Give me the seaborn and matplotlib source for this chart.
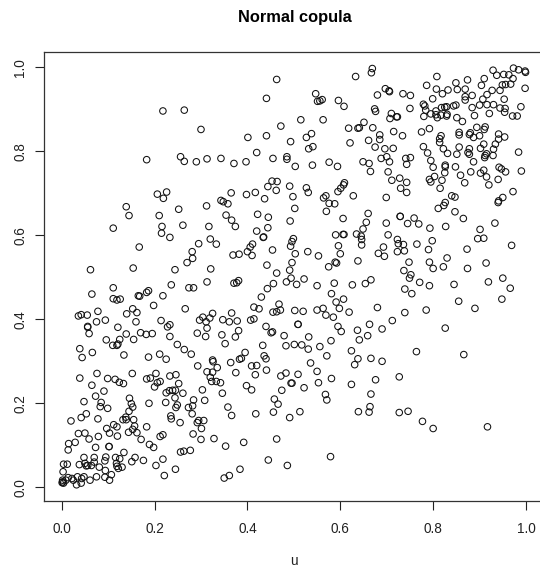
import matplotlib
matplotlib.use("Agg")
import matplotlib.pyplot as plt
import seaborn as sns

u_a = [.463,.441,.218,.264,.300,.472,.401,.441,.183,.256,.264,.290,.313,.343,.371,.397,.420,.455,.453,.464,.444,.462,.206,.226,.219,.139,.145,.111,.252,.312,.210,.216,.215,.233,.261,.317,.343,.348,.358,.365,.398,.417,.437,.354,.366,.374,.422,.445,.420,.444,.434,.435,.411,.406,.400,.410,.454,.320,.333,.295,.281,.282,.270,.167,.369,.382,.062,.154,.244,.321,.442,.463]
v_a = [.971,.926,.896,.898,.852,.860,.833,.837,.780,.787,.776,.775,.782,.783,.771,.775,.797,.783,.729,.728,.716,.707,.698,.703,.688,.668,.647,.617,.662,.670,.647,.621,.605,.595,.624,.621,.683,.680,.675,.701,.697,.702,.687,.648,.636,.621,.650,.643,.610,.618,.595,.596,.579,.572,.561,.552,.565,.591,.579,.580,.561,.545,.535,.572,.553,.555,.518,.522,.518,.520,.529,.510]

u_b = [.669,.667,.633,.547,.551,.556,.561,.596,.608,.680,.697,.705,.706,.735,.751,.750,.674,.676,.710,.707,.721,.723,.515,.563,.651,.618,.638,.641,.670,.715,.685,.685,.734,.661,.621,.538,.527,.493,.541,.532,.675,.696,.714,.700,.688,.706,.741,.751,.743,.649,.662,.665,.703,.576,.594,.540,.503,.485,.485,.728,.711,.743,.730,.743,.491,.498,.527,.531,.502,.492,.569,.564,.576,.588,.570,.628,.699,.595,.601,.607,.609,.660,.656,.606,.649,.699,.729,.729,.759,.745,.769,.793,.827,.847,.865,.811,.823,.826,.840,.847,.590,.606,.608,.635,.645,.646,.646,.703,.723,.725,.736,.765,.798,.790,.873,.901,.896,.909,.933,.969,.499,.496,.493,.503,.530,.553,.596,.600,.693,.682,.695,.723,.738,.638,.589,.592,.575,.496,.491,.748,.737,.752,.792,.800,.822,.830,.874,.914]
v_b = [.997,.987,.978,.937,.919,.920,.923,.921,.907,.934,.949,.944,.942,.937,.933,.902,.901,.895,.890,.878,.882,.882,.875,.875,.869,.855,.855,.856,.856,.847,.839,.828,.837,.826,.820,.842,.833,.823,.811,.806,.810,.806,.807,.787,.783,.775,.783,.785,.769,.775,.771,.752,.751,.774,.764,.767,.764,.787,.781,.736,.731,.726,.712,.702,.717,.692,.713,.702,.664,.634,.694,.689,.676,.675,.657,.694,.690,.704,.712,.720,.725,.652,.631,.640,.615,.629,.645,.645,.641,.628,.627,.617,.621,.656,.640,.664,.671,.678,.694,.691,.601,.602,.602,.603,.598,.590,.577,.601,.590,.580,.578,.579,.587,.566,.567,.614,.592,.593,.629,.576,.592,.585,.574,.556,.561,.551,.575,.556,.572,.557,.550,.561,.563,.539,.536,.534,.525,.535,.517,.536,.516,.506,.536,.521,.525,.546,.521,.534]

u_c = [.808,.786,.849,.874,.910,.929,.937,.952,.963,.973,.984,.998,.999,.972,.967,.956,.949,.904,.807,.820,.832,.852,.869,.884,.869,.869,.927,.944,.916,.907,.953,.998,.799,.779,.782,.784,.818,.825,.829,.806,.844,.849,.884,.900,.916,.930,.944,.955,.954,.989,.971,.981,.921,.889,.830,.851,.863,.780,.795,.806,.809,.817,.829,.775,.792,.894,.912,.910,.880,.878,.887,.900,.856,.856,.817,.814,.814,.941,.954,.941,.934,.930,.929,.909,.902,.915,.912,.911,.984,.856,.878,.875,.878,.851,.831,.822,.779,.788,.795,.800,.826,.826,.825,.887,.881,.902,.909,.915,.942,.947,.956,.990,.848,.859,.868,.920,.940,.803,.819,.815,.792,.795,.972,.950,.941,.940]
v_c = [.978,.957,.963,.970,.973,.993,.981,.983,.982,.998,.994,.991,.988,.973,.960,.959,.958,.957,.948,.937,.946,.947,.948,.933,.930,.922,.945,.945,.935,.924,.924,.950,.925,.912,.908,.898,.904,.905,.906,.896,.908,.910,.904,.910,.911,.911,.903,.902,.893,.906,.884,.884,.890,.885,.888,.880,.871,.883,.889,.887,.880,.886,.884,.846,.854,.857,.858,.852,.844,.840,.833,.837,.845,.839,.837,.830,.821,.841,.834,.829,.817,.805,.790,.817,.807,.794,.790,.785,.798,.810,.806,.797,.793,.793,.795,.806,.811,.796,.778,.762,.767,.763,.749,.775,.751,.748,.755,.739,.762,.758,.751,.753,.763,.743,.725,.720,.733,.740,.731,.712,.733,.727,.704,.690,.682,.678]

u_d = [.111,.065,.165,.168,.183,.187,.218,.236,.274,.284,.313,.371,.377,.381,.456,.443,.430,.111,.119,.126,.198,.266,.414,.425,.468,.455,.463,.471,.484,.036,.042,.055,.078,.153,.140,.162,.094,.075,.160,.214,.056,.056,.059,.121,.139,.170,.182,.195,.228,.233,.233,.096,.125,.155,.110,.119,.121,.039,.044,.066,.134,.187,.211,.225,.249,.264,.279,.297,.304,.311,.319,.325,.313,.292,.310,.347,.361,.378,.366,.381,.374,.345,.352,.407,.414,.440,.451,.454,.479,.483,.433,.436,.440,.441,.409,.420,.417,.395,.387,.383,.364,.375,.293,.325,.326,.335,.313,.325,.320,.323,.333,.342]
v_d = [.475,.460,.456,.455,.464,.468,.456,.482,.475,.475,.489,.486,.487,.492,.485,.473,.453,.449,.446,.448,.433,.425,.429,.425,.436,.417,.418,.422,.489,.408,.411,.410,.419,.425,.413,.416,.398,.394,.394,.397,.383,.381,.366,.381,.365,.368,.364,.366,.382,.387,.359,.351,.352,.352,.338,.338,.341,.330,.309,.321,.315,.310,.317,.305,.340,.328,.317,.398,.405,.394,.403,.414,.379,.367,.359,.399,.394,.396,.415,.373,.358,.363,.342,.398,.401,.383,.368,.370,.361,.337,.338,.313,.306,.279,.289,.290,.268,.321,.307,.305,.297,.273,.289,.303,.299,.285,.275,.274,.262,.252,.252,.249]

u_e = [.039,.076,.065,.099,.115,.124,.133,.152,.183,.191,.203,.233,.246,.206,.212,.200,.252,.091,.073,.048,.085,.083,.099,.146,.150,.153,.145,.188,.232,.225,.239,.245,.244,.261,.224,.249,.246,.303,.308,.284,.282,.273,.281,.346,.358,.366,.398,.409,.418,.472,.483,.494,.474,.458,.466,.456,.491,.053,.042,.020,.078,.132,.138,.139,.155,.112,.119,.097,.157,.153,.144,.162,.103,.120,.050,.036,.079,.059,.171,.183,.235,.236,.255,.292,.295,.306,.301,.283,.300,.328,.212,.218,.189,.198,.353,.392,.463,.445,.486,.029,.015,.014,.073,.102,.102,.134,.256,.263,.277]
v_e = [.260,.271,.243,.259,.257,.250,.247,.271,.258,.260,.271,.265,.268,.249,.252,.239,.247,.229,.217,.204,.202,.192,.188,.212,.199,.191,.181,.200,.230,.225,.231,.231,.213,.224,.202,.196,.190,.232,.207,.208,.194,.190,.175,.224,.191,.171,.242,.232,.175,.265,.272,.248,.231,.210,.198,.179,.166,.175,.166,.158,.163,.161,.167,.161,.161,.149,.144,.140,.146,.138,.131,.130,.129,.122,.129,.128,.121,.115,.114,.144,.170,.163,.154,.154,.159,.159,.140,.127,.114,.116,.121,.125,.102,.095,.098,.107,.115,.065,.052,.107,.104,.089,.095,.097,.097,.083,.084,.086,.088]

u_f = [.048,.070,.095,.093,.116,.125,.158,.151,.176,.218,.203,.245,.221,.350,.361,.384,.004,.012,.003,.038,.050,.053,.056,.064,.070,.081,.094,.118,.119,.122,.130,.093,.075,.061,.048,.034,.103,.107,.042,.032,.043,.025,.022,.014,.009,.002,.001,.004,.002]
v_f = [.071,.071,.072,.063,.071,.068,.071,.061,.064,.067,.052,.043,.028,.022,.028,.043,.055,.055,.037,.054,.057,.051,.052,.052,.060,.048,.040,.057,.050,.045,.048,.024,.025,.017,.025,.025,.017,.030,.010,.006,.021,.017,.021,.023,.017,.017,.011,.010,.013]

u_g = [.494,.506,.522,.550,.587,.626,.654,.666,.749,.771,.792,.845,.919,.950,.966,.948,.739,.754,.581,.607,.591,.598,.563,.550,.502,.520,.569,.585,.619,.680,.739,.785,.855,.890,.712,.663,.690,.637,.659,.641,.595,.602,.509,.509,.532,.580,.556,.531,.517,.501,.571,.624,.638,.631,.666,.690,.764,.826,.866,.536,.550,.509,.553,.581,.496,.522,.624,.676,.727,.666,.568,.571,.664,.639,.662,.727,.746,.777,.800,.917,.513,.579]
v_g = [.498,.483,.496,.480,.486,.482,.485,.494,.498,.488,.480,.483,.489,.498,.474,.448,.472,.461,.461,.448,.441,.426,.426,.422,.421,.419,.410,.405,.417,.428,.416,.422,.443,.426,.397,.388,.377,.374,.361,.351,.383,.371,.388,.388,.358,.349,.335,.329,.339,.340,.313,.325,.306,.292,.307,.300,.323,.379,.316,.296,.276,.269,.249,.259,.248,.237,.245,.256,.263,.222,.221,.208,.192,.180,.179,.178,.181,.157,.140,.144,.180,.073]

u = u_a + u_b + u_c + u_d + u_e + u_f + u_g
v = v_a + v_b + v_c + v_d + v_e + v_f + v_g
n = min(len(u), len(v))

x_ticks = [0.0, 0.2, 0.4, 0.6, 0.8, 1.0]
y_ticks = [0.0, 0.2, 0.4, 0.6, 0.8, 1.0]

W, H = 540, 571
sns.set_theme(style="ticks", rc={"font.family": ["Liberation Sans", "DejaVu Sans"]})
fig = plt.figure(figsize=(W / 100, H / 100), dpi=100)
ax = fig.add_axes([44 / W, 1 - 500.7 / H, 499.7 / W, 449 / H])
sns.scatterplot(x=u[:n], y=v[:n], ax=ax, s=22, facecolor="none", edgecolor="#111111", linewidth=0.75)
ax.set_xlim(-0.0381, 1.0381)
ax.set_ylim(-0.0319, 1.0371)
ax.set_xticks(x_ticks)
ax.set_yticks(y_ticks)
ax.set_xticklabels([f"{t:.1f}" for t in x_ticks], fontsize=9.8, color="#222222")
ax.set_yticklabels([f"{t:.1f}" for t in y_ticks], fontsize=9.8, color="#222222", rotation=90, va="center")
ax.tick_params(axis="x", length=6.5, width=0.8, color="#222222", pad=8.5)
ax.tick_params(axis="y", length=6.5, width=0.8, color="#222222", pad=5.5)
for s in ax.spines.values():
    s.set_visible(True)
    s.set_linewidth(0.9)
    s.set_color("#333333")
ax.set_xlabel("u", fontsize=9.8, color="#222222", labelpad=13.5)
ax.set_ylabel("")
fig.text(294.5 / W, 1 - 17.5 / H, "Normal copula", ha="center", va="center", fontsize=11.8, fontweight="bold", color="black")
fig.savefig("out.png", dpi=100)
